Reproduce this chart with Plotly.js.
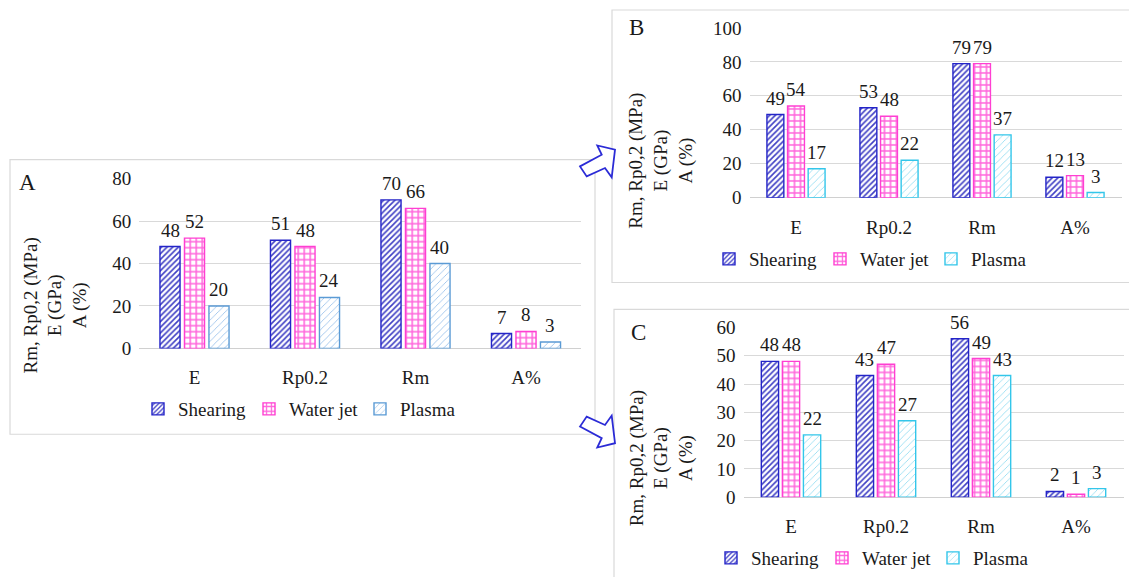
<!DOCTYPE html>
<html><head><meta charset="utf-8">
<script src="https://cdn.plot.ly/plotly-3.0.1.min.js"></script>
<style>html,body{margin:0;padding:0;background:#fff}#chart{width:1129px;height:577px}</style>
</head><body><div id="chart"></div>
<script>
// ---- data ----
const categories = ['E', 'Rp0.2', 'Rm', 'A%'];
const seriesNames = ['Shearing', 'Water jet', 'Plasma'];
const shearingA = [48, 51, 70, 7];
const waterjetA = [52, 48, 66, 8];
const plasmaA   = [20, 24, 40, 3];
const shearingB = [49, 53, 79, 12];
const waterjetB = [54, 48, 79, 13];
const plasmaB   = [17, 22, 37, 3];
const shearingC = [48, 43, 56, 2];
const waterjetC = [48, 47, 49, 1];
const plasmaC   = [22, 27, 43, 3];
const yTitleText = 'Rm, Rp0,2 (MPa)<br>E (GPa)<br>A (%)';
const panelLetters = ['A', 'B', 'C'];

// ---- layout helpers ----
const W = 1129, H = 577;
const px = x => x / W;
const py = y => 1 - y / H;
const FONT = "'Liberation Serif', 'Times New Roman', serif";
const TXT = '#1a1a1a';
const BARGAP = 0.335, GROUPGAP = 0.18;

const panels = [
  {key: '', data: [shearingA, waterjetA, plasmaA], x0: 139.25, x1: 581.25, y0: 179, y1: 349, ymax: 80, dtick: 20,
   plasmaLine: '#5B9BD5', plasmaFg: '#8DB9E8', legendX: 138, legendY: 409, titleX: 55, titleY: 306, letterX: 27, letterY: 183,
   box: [10, 160, 595, 435]},
  {key: '2', data: [shearingB, waterjetB, plasmaB], x0: 749.5, x1: 1121.5, y0: 28, y1: 198, ymax: 100, dtick: 20,
   plasmaLine: '#33C6EA', plasmaFg: '#85D8F0', legendX: 709, legendY: 259, titleX: 661, titleY: 161, letterX: 636, letterY: 28,
   box: [612, 10, 1140, 283]},
  {key: '3', data: [shearingC, waterjetC, plasmaC], x0: 743.5, x1: 1123.5, y0: 328, y1: 498, ymax: 60, dtick: 10,
   plasmaLine: '#33C6EA', plasmaFg: '#85D8F0', legendX: 711, legendY: 559, titleX: 661, titleY: 459, letterX: 638, letterY: 333,
   box: [614, 310, 1140, 590]}
];

const traces = [];
const annotations = [];
const shapes = [];
const layout = {
  width: W, height: H,
  margin: {l: 0, r: 0, t: 0, b: 0},
  paper_bgcolor: 'white', plot_bgcolor: 'white',
  barmode: 'group', bargap: BARGAP, bargroupgap: GROUPGAP,
  font: {family: FONT, size: 18, color: TXT},
  annotations: annotations, shapes: shapes
};

panels.forEach((p, pi) => {
  const xa = 'x' + p.key, ya = 'y' + p.key;
  const legendName = 'legend' + p.key;
  const styles = [
    {line: '#2424C8', pattern: {shape: '/', fgcolor: '#4040C4', bgcolor: 'white', size: 4, solidity: 0.4, fillmode: 'replace'}},
    {line: '#FF3FD2', pattern: {shape: '+', fgcolor: '#FF66DC', bgcolor: 'white', size: 6, solidity: 0.45, fillmode: 'replace'}},
    {line: p.plasmaLine, pattern: {shape: '/', fgcolor: p.plasmaFg, bgcolor: 'white', size: 5, solidity: 0.15, fillmode: 'replace'}}
  ];
  p.data.forEach((vals, si) => {
    traces.push({
      type: 'bar', x: categories, y: vals, name: seriesNames[si],
      xaxis: xa, yaxis: ya, legend: legendName,
      marker: {color: 'white', line: {color: styles[si].line, width: 1.4}, pattern: styles[si].pattern},
      hoverinfo: 'skip'
    });
  });
  layout['xaxis' + p.key] = {
    domain: [px(p.x0), px(p.x1)], anchor: ya, type: 'category',
    showgrid: false, showline: false, zeroline: false, ticks: '',
    ticklabelstandoff: 16, tickfont: {family: FONT, size: 19, color: TXT}, fixedrange: true
  };
  layout['yaxis' + p.key] = {
    domain: [py(p.y1), py(p.y0)], anchor: xa, range: [0, p.ymax], dtick: p.dtick,
    showgrid: true, gridcolor: '#D9D9D9', gridwidth: 1,
    zeroline: true, zerolinecolor: '#D0D0D0', zerolinewidth: 1, showline: false, ticks: '',
    ticklabelstandoff: 7, tickfont: {family: FONT, size: 19, color: TXT}, fixedrange: true
  };
  layout[legendName] = {
    orientation: 'h', x: px(p.legendX), y: py(p.legendY), xanchor: 'left', yanchor: 'middle',
    xref: 'paper', yref: 'paper', entrywidth: 66, entrywidthmode: 'pixels',
    bgcolor: 'rgba(0,0,0,0)', font: {family: FONT, size: 19, color: TXT}, traceorder: 'normal'
  };
  // value labels
  const catW = (p.x1 - p.x0) / categories.length;
  const slot = (1 - BARGAP) * catW / 3;
  p.data.forEach((vals, si) => {
    vals.forEach((v, ci) => {
      annotations.push({
        xref: xa, yref: ya, x: categories[ci], y: v, text: String(v),
        showarrow: false, yanchor: 'bottom', xanchor: 'center',
        xshift: (si - 1) * slot, yshift: 4,
        font: {family: FONT, size: 19, color: TXT}
      });
    });
  });
  // y title
  annotations.push({
    xref: 'paper', yref: 'paper', x: px(p.titleX), y: py(p.titleY), text: yTitleText,
    textangle: -90, showarrow: false, xanchor: 'center', yanchor: 'middle', align: 'center',
    font: {family: FONT, size: 19, color: TXT}
  });
  // panel letter
  annotations.push({
    xref: 'paper', yref: 'paper', x: px(p.letterX), y: py(p.letterY), text: panelLetters[pi],
    showarrow: false, xanchor: 'center', yanchor: 'middle',
    font: {family: FONT, size: 23, color: TXT}
  });
  // panel frame
  shapes.push({
    type: 'rect', xref: 'paper', yref: 'paper', x0: px(p.box[0]), x1: px(p.box[2]),
    y0: py(p.box[3]), y1: py(p.box[1]), line: {color: '#D9D9D9', width: 1.2}, fillcolor: 'rgba(0,0,0,0)', layer: 'below'
  });
});

// connecting arrows (decoration)
function arrowPath(pts) {
  return 'M' + pts.map(q => px(q[0]).toFixed(5) + ',' + py(q[1]).toFixed(5)).join('L') + 'Z';
}
const arrowUp = [[580, 166.7], [601.7, 155], [597.3, 145.7], [615, 150], [611.7, 177.7], [605, 168.3], [586.7, 176.7]];
const arrowDown = arrowUp.map(q => [q[0], 594 - q[1]]);
[arrowUp, arrowDown].forEach(a => shapes.push({
  type: 'path', xref: 'paper', yref: 'paper', path: arrowPath(a),
  line: {color: '#2B2BD6', width: 1.8}, fillcolor: 'white', layer: 'above'
}));

Plotly.newPlot('chart', traces, layout, {displayModeBar: false, staticPlot: true});
</script>
</body></html>
